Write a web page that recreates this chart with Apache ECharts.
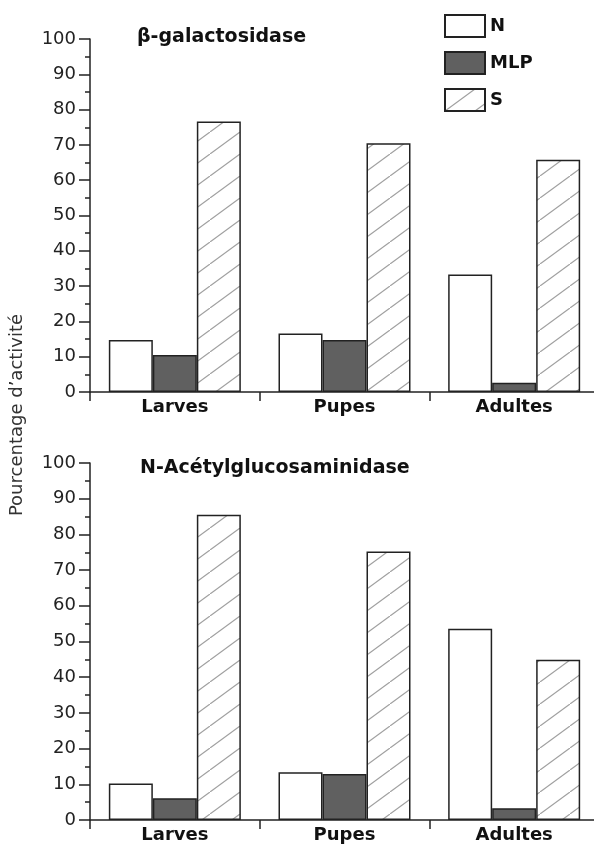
<!DOCTYPE html>
<html>
<head>
<meta charset="utf-8">
<script src="https://cdn.jsdelivr.net/npm/echarts@6/dist/echarts.min.js"></script>
<style>
  html, body { margin: 0; padding: 0; background: #fff; }
  #chart { width: 594px; height: 846px; }
</style>
</head>
<body>
<div id="chart"></div>
<script>
  // categories and values
  var stades = ['Larves', 'Pupes', 'Adultes'];
  var seriesNames = ['N', 'MLP', 'S'];
  var galN = [14.7, 16.6, 33.3];
  var galMLP = [10.5, 14.7, 2.6];
  var galS = [76.6, 70.5, 65.8];
  var nagN = [10.2, 13.4, 53.6];
  var nagMLP = [6.1, 12.9, 3.3];
  var nagS = [85.5, 75.2, 44.9];
  var titles = ['β-galactosidase', 'N-Acétylglucosaminidase'];
  var yTitle = 'Pourcentage d\u2019activité';

  var font = 'DejaVu Sans';

  /* motif hachuré pour la série S */
  function hatch() {
    var c = document.createElement('canvas');
    c.width = 30;
    c.height = 22;
    var ctx = c.getContext('2d');
    ctx.fillStyle = '#fff';
    ctx.fillRect(0, 0, 30, 22);
    ctx.strokeStyle = '#a0a0a0';
    ctx.lineWidth = 1.2;
    ctx.beginPath();
    ctx.moveTo(-3, 24.2);
    ctx.lineTo(33, -2.2);
    ctx.stroke();
    return c;
  }
  var hatchImg = hatch();

  var fills = {
    N: '#ffffff',
    MLP: '#606060',
    S: {image: hatchImg, repeat: 'repeat'}
  };

  var grids = [
    {left: 90, top: 39, width: 509, height: 353, outerBoundsMode: 'none'},
    {left: 90, top: 463, width: 509, height: 357, outerBoundsMode: 'none'}
  ];

  function xAxisFor(i) {
    return {
      type: 'category',
      gridIndex: i,
      data: stades,
      axisLine: {lineStyle: {color: '#222', width: 1.5}},
      axisTick: {show: true, length: 9, lineStyle: {color: '#222', width: 1.5}},
      axisLabel: {color: '#111', fontFamily: font, fontWeight: 'bold', fontSize: 18, margin: 6}
    };
  }

  function yAxisFor(i) {
    return {
      type: 'value',
      gridIndex: i,
      min: 0,
      max: 100,
      interval: 10,
      axisLine: {show: true, lineStyle: {color: '#222', width: 1.5}},
      axisTick: {show: true, length: 11, lineStyle: {color: '#222', width: 1.5}},
      minorTick: {show: true, splitNumber: 2, length: 5, lineStyle: {color: '#222', width: 1.5}},
      splitLine: {show: false},
      axisLabel: {color: '#222', fontFamily: font, fontSize: 18, margin: 14}
    };
  }

  function barSeries(name, data, idx) {
    return {
      name: name,
      type: 'bar',
      xAxisIndex: idx,
      yAxisIndex: idx,
      data: data,
      barWidth: 44,
      barGap: '0%',
      itemStyle: {color: fills[name], borderColor: '#222', borderWidth: 1.5},
      emphasis: {disabled: true}
    };
  }

  var myChart = echarts.init(document.getElementById('chart'), null, {renderer: 'canvas'});
  myChart.setOption({
    animation: false,
    backgroundColor: '#fff',
    grid: grids,
    xAxis: [xAxisFor(0), xAxisFor(1)],
    yAxis: [yAxisFor(0), yAxisFor(1)],
    legend: {
      data: seriesNames,
      orient: 'vertical',
      left: 444,
      top: 14,
      padding: 0,
      itemWidth: 40,
      itemHeight: 22,
      itemGap: 13,
      icon: 'rect',
      selectedMode: false,
      textStyle: {color: '#111', fontFamily: font, fontWeight: 'bold', fontSize: 18}
    },
    graphic: [
      {
        type: 'text', left: 137, top: 28,
        style: {text: titles[0], font: 'bold 19px "DejaVu Sans"', fill: '#111'}
      },
      {
        type: 'text', left: 140, top: 459,
        style: {text: titles[1], font: 'bold 19px "DejaVu Sans"', fill: '#111'}
      },
      {
        type: 'text', x: 17, y: 415, rotation: Math.PI / 2,
        style: {text: yTitle, font: '18px "DejaVu Sans"', fill: '#333', align: 'center', verticalAlign: 'middle'}
      }
    ],
    series: [
      barSeries('N', galN, 0),
      barSeries('MLP', galMLP, 0),
      barSeries('S', galS, 0),
      barSeries('N', nagN, 1),
      barSeries('MLP', nagMLP, 1),
      barSeries('S', nagS, 1)
    ]
  });
</script>
</body>
</html>
